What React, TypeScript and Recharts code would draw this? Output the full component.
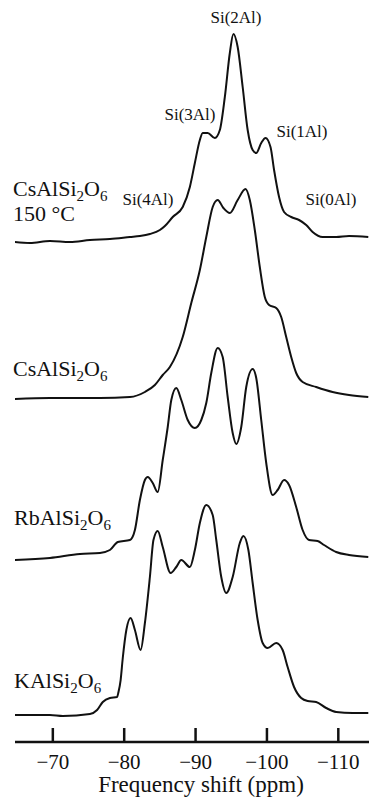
import React from "react";
import { LineChart, Line, XAxis, YAxis } from "recharts";

// ppm positions and intensities (baseline-relative) for each spectrum
const ppm1 = [-64.6, -66.8, -69.6, -72.4, -75.2, -78.0, -80.8, -82.2, -83.6, -85.0, -85.7, -86.8, -88.2, -89.2, -89.9, -90.6, -91.0, -91.7, -92.7, -93.4, -94.1, -94.8, -95.3, -95.9, -96.6, -97.3, -98.0, -98.5, -99.2, -99.8, -100.5, -101.0, -101.7, -102.4, -103.4, -104.5, -105.5, -106.4, -107.8, -109.7, -111.5, -114.2];
const int1 = [0, -1, 1, 0, 2, 3, 5, 6, 8, 12, 16, 25, 35, 55, 79, 102, 109, 109, 104, 112, 145, 189, 208, 195, 155, 112, 92, 89, 99, 104, 95, 72, 45, 30, 25, 22, 17, 10, 5, 5, 6, 5];

const ppm2 = [-64.6, -69.6, -76.6, -80.8, -82.9, -84.3, -85.4, -86.4, -88.2, -89.4, -90.6, -91.5, -92.4, -93.1, -93.9, -94.8, -95.9, -97.0, -97.6, -98.3, -99.0, -99.7, -100.3, -101.3, -102.0, -102.7, -103.4, -104.1, -105.0, -106.9, -109.2, -111.5, -114.2];
const int2 = [0, 1, 1, 2, 7, 14, 24, 32, 62, 96, 129, 162, 192, 199, 191, 186, 199, 210, 199, 169, 132, 102, 94, 91, 82, 62, 42, 26, 17, 12, 7, 4, 2];

const ppm3 = [-64.6, -69.6, -73.8, -76.6, -78.0, -79.1, -80.8, -81.5, -82.2, -82.9, -83.3, -84.0, -84.7, -85.4, -86.1, -86.6, -87.3, -88.0, -88.9, -89.9, -90.8, -91.5, -92.2, -93.1, -93.8, -94.5, -95.2, -95.7, -96.4, -97.1, -98.0, -98.5, -99.2, -99.9, -100.8, -101.5, -102.4, -103.1, -104.1, -105.0, -105.9, -107.1, -108.0, -109.7, -111.5, -114.2];
const int3 = [-1, 1, 5, 6, 9, 17, 19, 29, 59, 79, 82, 76, 67, 99, 132, 159, 171, 159, 139, 131, 139, 156, 186, 211, 202, 162, 126, 115, 132, 172, 190, 181, 139, 96, 64, 69, 79, 74, 52, 29, 19, 18, 14, 7, 4, 2];

const ppm4 = [-64.6, -69.6, -71.4, -75.2, -76.2, -77.0, -78.0, -79.0, -79.2, -79.5, -79.8, -80.3, -80.9, -81.5, -82.3, -82.9, -83.6, -84.1, -84.7, -85.4, -86.5, -87.3, -88.0, -89.2, -89.9, -90.6, -91.5, -92.4, -92.9, -93.6, -94.3, -95.2, -96.2, -96.7, -97.4, -98.0, -98.7, -99.4, -100.1, -101.3, -102.2, -102.9, -103.8, -104.8, -105.7, -106.9, -108.3, -109.7, -112.0, -114.2];
const int4 = [0, 0, -1, 1, 5, 13, 17, 18, 23, 35, 57, 85, 97, 85, 65, 92, 138, 175, 184, 168, 142, 148, 155, 148, 165, 192, 210, 200, 175, 138, 122, 138, 172, 179, 165, 132, 95, 72, 67, 72, 65, 48, 28, 17, 14, 13, 7, 3, 2, 2];

// vertical stacking offsets of each spectrum
const offsets = [500, 343, 183, 27];
const xTicks = [-70, -80, -90, -100, -110];

const seriesPpm = [ppm1, ppm2, ppm3, ppm4];
const seriesInt = [int1, int2, int3, int4];

const seriesData = seriesPpm.map((p, s) =>
  p.map((x, i) => ({ ppm: x, y: seriesInt[s][i] + offsets[s] }))
);

const FONT = '"Liberation Serif", "DejaVu Serif", "Times New Roman", serif';

const Tick = (props: any) => {
  const { x, y, payload } = props;
  const v = payload.value as number;
  return (
    <g>
      <line x1={x} y1={y} x2={x} y2={y - 14} stroke="#111" strokeWidth={2.5} />
      <text x={x} y={y + 27} textAnchor="middle" fontFamily={FONT} fontSize={21} fill="#111">
        {"\u2212" + Math.abs(v)}
      </text>
    </g>
  );
};

const Formula = ({ x, y, head }: { x: number; y: number; head: string }) => (
  <text x={x} y={y} fontFamily={FONT} fontSize={22} fill="#111">
    {head}
    <tspan fontSize={15} dy={5}>2</tspan>
    <tspan fontSize={22} dy={-5}>O</tspan>
    <tspan fontSize={15} dy={5}>6</tspan>
  </text>
);

const peakLabels = [
  { t: "Si(2Al)", x: 236, y: 23 },
  { t: "Si(3Al)", x: 190, y: 120 },
  { t: "Si(1Al)", x: 302, y: 137 },
  { t: "Si(4Al)", x: 148, y: 205 },
  { t: "Si(0Al)", x: 331, y: 205 },
];

export default function App() {
  return (
    <div style={{ position: "absolute", left: 0, top: 0, width: 369, height: 801, background: "#fff" }}>
      <LineChart width={369} height={801} margin={{ top: 22, right: 0, bottom: 0, left: 15 }}>
        <XAxis
          type="number"
          dataKey="ppm"
          domain={[-114.3, -64.7]}
          reversed
          ticks={xTicks}
          allowDataOverflow
          axisLine={{ stroke: "#111", strokeWidth: 2.5 }}
          tickLine={false}
          tickSize={0}
          tickMargin={0}
          tick={<Tick />}
          height={59}
          interval={0}
        />
        <YAxis type="number" dataKey="y" domain={[0, 720]} hide allowDataOverflow />
        {seriesData.map((d, i) => (
          <Line
            key={i}
            data={d}
            dataKey="y"
            type="monotone"
            stroke="#111"
            strokeWidth={2}
            dot={false}
            isAnimationActive={false}
          />
        ))}
      </LineChart>
      <svg width={369} height={801} style={{ position: "absolute", left: 0, top: 0, pointerEvents: "none" }}>
        {peakLabels.map((l) => (
          <text key={l.t} x={l.x} y={l.y} textAnchor="middle" fontFamily={FONT} fontSize={17} fill="#111">
            {l.t}
          </text>
        ))}
        <Formula x={13} y={196} head="CsAlSi" />
        <text x={13} y={221} fontFamily={FONT} fontSize={22} fill="#111">150 °C</text>
        <Formula x={13} y={376} head="CsAlSi" />
        <Formula x={14} y={525} head="RbAlSi" />
        <Formula x={14} y={688} head="KAlSi" />
        <text x={201} y={792} textAnchor="middle" fontFamily={FONT} fontSize={23} fill="#111">
          Frequency shift (ppm)
        </text>
      </svg>
    </div>
  );
}
